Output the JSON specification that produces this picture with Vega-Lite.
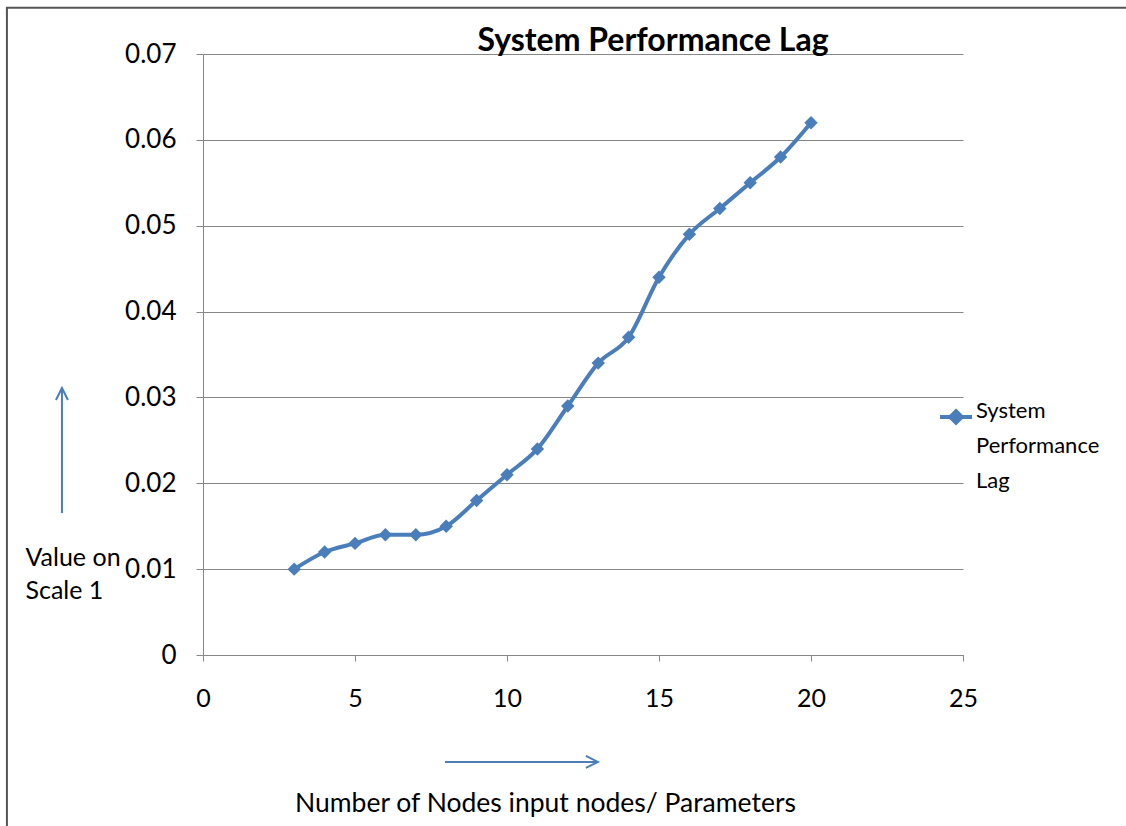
{
  "$schema": "https://vega.github.io/schema/vega-lite/v6.json",
  "autosize": "none",
  "width": 760,
  "height": 601,
  "padding": {"left": 203, "top": 54, "right": 163, "bottom": 171},
  "background": "white",
  "config": {"view": {"stroke": null}, "font": "Lato"},
  "title": {"text": "System Performance Lag", "font": "Lato", "fontSize": 32, "fontWeight": "bold", "color": "#000000", "anchor": "middle", "frame": "group", "dx": 70, "offset": -51},
  "layer": [
    {
      "data": {"values": [{"x1": -6.45, "y1": 0.0754, "x2": 200, "y2": -0.4}]},
      "mark": {"type": "rect", "fill": null, "stroke": "#555555", "strokeWidth": 2},
      "encoding": {
        "x": {"field": "x1", "type": "quantitative"},
        "y": {"field": "y1", "type": "quantitative"},
        "x2": {"field": "x2"},
        "y2": {"field": "y2"}
      }
    },
    {
      "data": {"values": [
        {"nodes": 3, "lag": 0.010, "series": "System Performance Lag"},
        {"nodes": 4, "lag": 0.012, "series": "System Performance Lag"},
        {"nodes": 5, "lag": 0.013, "series": "System Performance Lag"},
        {"nodes": 6, "lag": 0.014, "series": "System Performance Lag"},
        {"nodes": 7, "lag": 0.014, "series": "System Performance Lag"},
        {"nodes": 8, "lag": 0.015, "series": "System Performance Lag"},
        {"nodes": 9, "lag": 0.018, "series": "System Performance Lag"},
        {"nodes": 10, "lag": 0.021, "series": "System Performance Lag"},
        {"nodes": 11, "lag": 0.024, "series": "System Performance Lag"},
        {"nodes": 12, "lag": 0.029, "series": "System Performance Lag"},
        {"nodes": 13, "lag": 0.034, "series": "System Performance Lag"},
        {"nodes": 14, "lag": 0.037, "series": "System Performance Lag"},
        {"nodes": 15, "lag": 0.044, "series": "System Performance Lag"},
        {"nodes": 16, "lag": 0.049, "series": "System Performance Lag"},
        {"nodes": 17, "lag": 0.052, "series": "System Performance Lag"},
        {"nodes": 18, "lag": 0.055, "series": "System Performance Lag"},
        {"nodes": 19, "lag": 0.058, "series": "System Performance Lag"},
        {"nodes": 20, "lag": 0.062, "series": "System Performance Lag"}
      ]},
      "layer": [
        {
          "mark": {"type": "line", "strokeWidth": 4, "interpolate": "monotone"},
          "encoding": {
            "x": {"field": "nodes", "type": "quantitative", "scale": {"domain": [0, 25], "nice": false},
              "axis": {"values": [0, 5, 10, 15, 20, 25], "grid": false, "labelFlush": false, "domainColor": "#868686", "tickColor": "#868686", "tickSize": 6, "labelFont": "Lato", "labelFontSize": 25, "labelColor": "#000000", "labelPadding": 25,
                "title": "Number of Nodes input nodes/ Parameters", "titleFont": "Lato", "titleFontSize": 26.5, "titleFontWeight": "normal", "titleColor": "#000000", "titleX": 342, "titleY": 148, "titleBaseline": "middle", "titleAnchor": "middle"}},
            "y": {"field": "lag", "type": "quantitative", "scale": {"domain": [0, 0.07], "nice": false},
              "axis": {"values": [0, 0.01, 0.02, 0.03, 0.04, 0.05, 0.06, 0.07], "labelExpr": "datum.value == 0 ? '0' : format(datum.value, '.2f')", "labelFlush": false, "grid": true, "gridColor": "#868686", "gridWidth": 1, "domainColor": "#868686", "tickColor": "#868686", "tickSize": 7, "labelFont": "Lato", "labelFontSize": 26, "labelColor": "#000000", "labelPadding": 20,
                "title": ["Value on", "Scale 1"], "titleAngle": 0, "titleAlign": "left", "titleBaseline": "middle", "titleFont": "Lato", "titleFontSize": 25, "titleFontWeight": "normal", "titleColor": "#000000", "titleX": -178, "titleY": 503, "titleLineHeight": 33}},
            "color": {"field": "series", "type": "nominal", "scale": {"range": ["#4a7ebb"]},
              "legend": {"title": null, "orient": "none", "legendX": 735, "legendY": 345, "labelFont": "Lato", "labelFontSize": 22, "labelColor": "#000000", "labelLimit": 300,
                "labelExpr": "['System', 'Performance', 'Lag']", "labelBaseline": "top", "labelOffset": 2,
                "symbolType": "M -1 0 L 1 0 M 0 -0.36 L 0.36 0 L 0 0.36 L -0.36 0 Z", "symbolSize": 1024, "symbolStrokeWidth": 4,
                "symbolFillColor": "#4a7ebb", "symbolStrokeColor": "#4a7ebb",
                "encode": {"labels": {"update": {"lineHeight": {"value": 35}, "dy": {"value": -16}}}}}}
          }
        },
        {
          "mark": {"type": "point", "shape": "diamond", "filled": true, "size": 180, "opacity": 1},
          "encoding": {
            "x": {"field": "nodes", "type": "quantitative"},
            "y": {"field": "lag", "type": "quantitative"},
            "color": {"field": "series", "type": "nominal", "legend": null}
          }
        }
      ]
    },
    {
      "data": {"values": [
        {"x": -4.64, "y": 0.0311, "x2": -4.64, "y2": 0.01654, "head": "up"},
        {"x": 12.99, "y": -0.01246, "x2": 7.96, "y2": -0.01246, "head": "right"}
      ]},
      "layer": [
        {
          "mark": {"type": "rule", "color": "#4a7ebb", "strokeWidth": 2},
          "encoding": {
            "x": {"field": "x", "type": "quantitative"},
            "y": {"field": "y", "type": "quantitative"},
            "x2": {"field": "x2"},
            "y2": {"field": "y2"}
          }
        },
        {
          "transform": [{"filter": "datum.head == 'up'"}],
          "mark": {"type": "point", "shape": "M -1 2 L 0 0 L 1 2", "filled": false, "color": "#4a7ebb", "strokeWidth": 2, "size": 144, "opacity": 1},
          "encoding": {
            "x": {"field": "x", "type": "quantitative"},
            "y": {"field": "y", "type": "quantitative"}
          }
        },
        {
          "transform": [{"filter": "datum.head == 'right'"}],
          "mark": {"type": "point", "shape": "M -2 -1 L 0 0 L -2 1", "filled": false, "color": "#4a7ebb", "strokeWidth": 2, "size": 144, "opacity": 1},
          "encoding": {
            "x": {"field": "x", "type": "quantitative"},
            "y": {"field": "y", "type": "quantitative"}
          }
        }
      ]
    }
  ]
}
